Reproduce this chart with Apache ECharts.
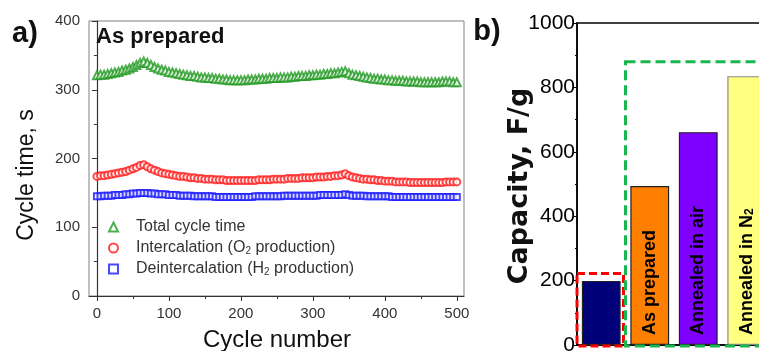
<!DOCTYPE html>
<html><head><meta charset="utf-8">
<script src="https://cdn.jsdelivr.net/npm/echarts@6/dist/echarts.min.js"></script>
<style>html,body{margin:0;padding:0;background:#fff}#c{width:759px;height:351px}</style>
</head><body><div id="c"></div>
<script>
// ---- panel a data (cycle number vs cycle time, s) ----
const cycles = [
  0,5,10,15,20,25,30,35,40,45,
  50,55,60,65,70,75,80,85,90,95,
  100,105,110,115,120,125,130,135,140,145,
  150,155,160,165,170,175,180,185,190,195,
  200,205,210,215,220,225,230,235,240,245,
  250,255,260,265,270,275,280,285,290,295,
  300,305,310,315,320,325,330,335,340,345,
  350,355,360,365,370,375,380,385,390,395,
  400,405,410,415,420,425,430,435,440,445,
  450,455,460,465,470,475,480,485,490,495,
  500];
const totalTime = [
  321,322,322,323,324,325,326,328,329,331,
  333,336,339,341,339,336,333,331,329,328,
  326,325,324,323,322,321,320,320,319,318,
  318,317,317,316,316,315,315,314,314,314,
  314,314,315,315,315,316,316,316,317,317,
  317,318,318,318,319,319,320,320,320,321,
  321,322,322,323,323,324,324,325,326,327,
  324,322,321,320,319,318,317,316,316,315,
  315,314,314,313,313,313,312,312,312,312,
  311,311,311,311,311,311,312,312,312,311,
  311];
const intercalation = [
  174,175,175,176,177,178,179,180,181,183,
  185,187,190,191,188,185,183,181,179,178,
  177,176,175,174,174,173,172,172,171,171,
  170,170,170,169,169,169,168,168,168,168,
  168,168,168,168,168,169,169,169,169,170,
  170,170,170,171,171,171,171,172,172,172,
  172,173,173,173,174,174,175,175,176,178,
  175,173,172,171,170,170,169,169,168,168,
  167,167,167,166,166,166,166,165,165,165,
  165,165,165,165,165,165,165,166,166,166,
  166];
const deintercalation = [
  145,145,146,146,146,147,147,147,148,148,
  149,149,150,150,150,149,149,148,148,148,
  147,147,147,146,146,146,146,145,145,145,
  145,145,145,144,144,144,144,144,144,144,
  144,144,144,144,145,145,145,145,145,145,
  145,145,146,146,146,146,146,146,146,146,
  146,146,147,147,147,147,147,147,147,148,
  147,146,146,146,146,145,145,145,145,145,
  145,145,144,144,144,144,144,144,144,144,
  144,144,144,144,144,144,144,144,144,144,
  144];
const seriesNames = ['Total cycle time', 'Intercalation (O2 production)', 'Deintercalation (H2 production)'];
const xTicks = [0, 100, 200, 300, 400, 500];
const xMinorTicks = [50, 150, 250, 350, 450];

// ---- panel b data (capacity, F/g) ----
const capCategories = ['Reference', 'As prepared', 'Annealed in air', 'Annealed in N2'];
const capValues = [199, 494, 661, 835];
const capLabels = ['', 'As prepared', 'Annealed in air', 'Annealed in N{sub|2}'];

const chart = echarts.init(document.getElementById('c'), null, {renderer: 'canvas'});
const barFills = ['#000078', '#ff8000', '#8000ff', '#ffff80'];
const barBorders = ['#222', '#222', '#222', '#8a8a8a'];
const pair = (xs, ys) => xs.map((x, i) => [x, ys[i]]);
const SANS = 'Liberation Sans, Arial, sans-serif';

const option = {
  animation: false,
  backgroundColor: '#fff',
  grid: [
    {left: 89, top: 21, width: 375, height: 275, show: true, borderColor: '#808080', borderWidth: 1, outerBoundsMode: 'none'},
    {left: 577, top: 23, width: 194, height: 322, show: true, borderColor: '#000', borderWidth: 1.5, outerBoundsMode: 'none'}
  ],
  xAxis: [
    {type: 'value', gridIndex: 0, min: -11, max: 510, position: 'bottom',
     axisLine: {show: true, onZero: false, lineStyle: {color: '#333', width: 1.2}},
     axisTick: {show: true, length: 5, customValues: xTicks, lineStyle: {color: '#333'}},
     axisLabel: {show: true, customValues: xTicks, fontSize: 15, color: '#333', fontFamily: SANS, margin: 10},
     splitLine: {show: false}},
    {type: 'value', gridIndex: 0, min: -11, max: 510, position: 'bottom',
     axisLine: {show: false, onZero: false},
     axisTick: {show: true, length: 3, customValues: xMinorTicks, lineStyle: {color: '#333'}},
     axisLabel: {show: false}, splitLine: {show: false}},
    {type: 'category', gridIndex: 1, data: capCategories, boundaryGap: true,
     axisLine: {show: true, lineStyle: {color: '#000', width: 1.5}},
     axisTick: {show: false}, axisLabel: {show: false}}
  ],
  yAxis: [
    {type: 'value', gridIndex: 0, min: 0, max: 400, interval: 100,
     axisLine: {show: true, lineStyle: {color: '#333', width: 1.2}},
     axisTick: {show: true, length: 5, lineStyle: {color: '#333'}},
     minorTick: {show: true, splitNumber: 2, length: 3, lineStyle: {color: '#333'}},
     axisLabel: {fontSize: 15, color: '#333', fontFamily: SANS, margin: 9},
     splitLine: {show: false}},
    {type: 'value', gridIndex: 1, min: 0, max: 1000, interval: 200,
     axisLine: {show: true, lineStyle: {color: '#000', width: 1.5}},
     axisTick: {show: true, length: 3, lineStyle: {color: '#000'}},
     minorTick: {show: true, splitNumber: 2, length: 2, lineStyle: {color: '#000'}},
     axisLabel: {fontSize: 21, color: '#000', fontFamily: SANS, margin: 2, formatter: v => String(v)},
     splitLine: {show: false}}
  ],
  legend: {
    data: seriesNames,
    orient: 'vertical', left: 108, top: 219, padding: 0,
    itemWidth: 9, itemHeight: 9, itemGap: 5,
    formatter: n => n.replace('O2', 'O{sub|2}').replace('H2', 'H{sub|2}'),
    textStyle: {fontSize: 16, color: '#333', fontFamily: SANS, padding: [0, 0, 0, 13],
      rich: {sub: {fontSize: 10, color: '#333', fontFamily: SANS, verticalAlign: 'bottom', lineHeight: 10}}}
  },
  series: [
    {name: seriesNames[0], type: 'scatter', xAxisIndex: 0, yAxisIndex: 0,
     data: pair(cycles, totalTime), symbol: 'emptyTriangle', symbolSize: 8,
     itemStyle: {color: '#239a23', borderWidth: 2.2}},
    {name: seriesNames[1], type: 'scatter', xAxisIndex: 0, yAxisIndex: 0,
     data: pair(cycles, intercalation), symbol: 'emptyCircle', symbolSize: 7,
     itemStyle: {color: '#ff1a1a', borderWidth: 2.2}},
    {name: seriesNames[2], type: 'scatter', xAxisIndex: 0, yAxisIndex: 0,
     data: pair(cycles, deintercalation), symbol: 'emptyRect', symbolSize: 6,
     itemStyle: {color: '#1a1aff', borderWidth: 2}},
    {name: 'Capacity', type: 'bar', xAxisIndex: 2, yAxisIndex: 1, barWidth: '80%',
     data: capValues.map((v, i) => ({value: v,
       itemStyle: {color: barFills[i], borderColor: barBorders[i], borderWidth: 1.2},
       label: {show: capLabels[i] !== '', formatter: capLabels[i]}})),
     label: {position: 'insideBottom', rotate: 90, align: 'left', verticalAlign: 'middle', distance: 10,
       fontSize: 18, fontWeight: 'bold', color: '#000', fontFamily: SANS,
       rich: {sub: {fontSize: 12, fontWeight: 'bold', color: '#000', fontFamily: SANS, verticalAlign: 'bottom', lineHeight: 12}}}}
  ]
};
chart.setOption(option);

function txt(text, x, y, font, rot) {
  return {type: 'text', x: x, y: y, rotation: rot || 0, z: 100,
    style: {text: text, font: font, fill: '#111', textAlign: 'center', textVerticalAlign: 'middle', align: 'center', verticalAlign: 'middle'}};
}
const toPx = (c, v) => chart.convertToPixel({xAxisIndex: 2, yAxisIndex: 1}, [c, v]);
const band = chart.getModel().getComponent('xAxis', 2).axis.getBandWidth();
const r0 = toPx(0, 222), rb = toPx(0, 0);
const g0 = toPx(1, 880);
chart.setOption({graphic: [
  txt('a)', 25, 34, 'bold 29px Liberation Sans'),
  txt('b)', 487, 32, 'bold 29px Liberation Sans'),
  {type: 'text', x: 96, y: 37, z: 100, style: {text: 'As prepared', font: 'bold 22px Liberation Sans', fill: '#111', textVerticalAlign: 'middle', verticalAlign: 'middle'}},
  txt('Cycle time, s', 27, 175, '23px Liberation Sans', Math.PI / 2),
  txt('Cycle number', 277, 340, '24px Liberation Sans'),
  txt('Capacity, F/g', 520, 186, 'bold 27px DejaVu Sans', Math.PI / 2),
  {type: 'rect', z: 90, shape: {x: r0[0] - band / 2, y: r0[1], width: band - 2, height: rb[1] - r0[1] + 1},
   style: {fill: 'none', stroke: '#ff0000', lineWidth: 3, lineDash: [8, 4]}},
  {type: 'rect', z: 90, shape: {x: g0[0] - band / 2, y: g0[1], width: 400, height: rb[1] - g0[1] + 1},
   style: {fill: 'none', stroke: '#19b54f', lineWidth: 3, lineDash: [10, 5]}}
]});
</script></body></html>
